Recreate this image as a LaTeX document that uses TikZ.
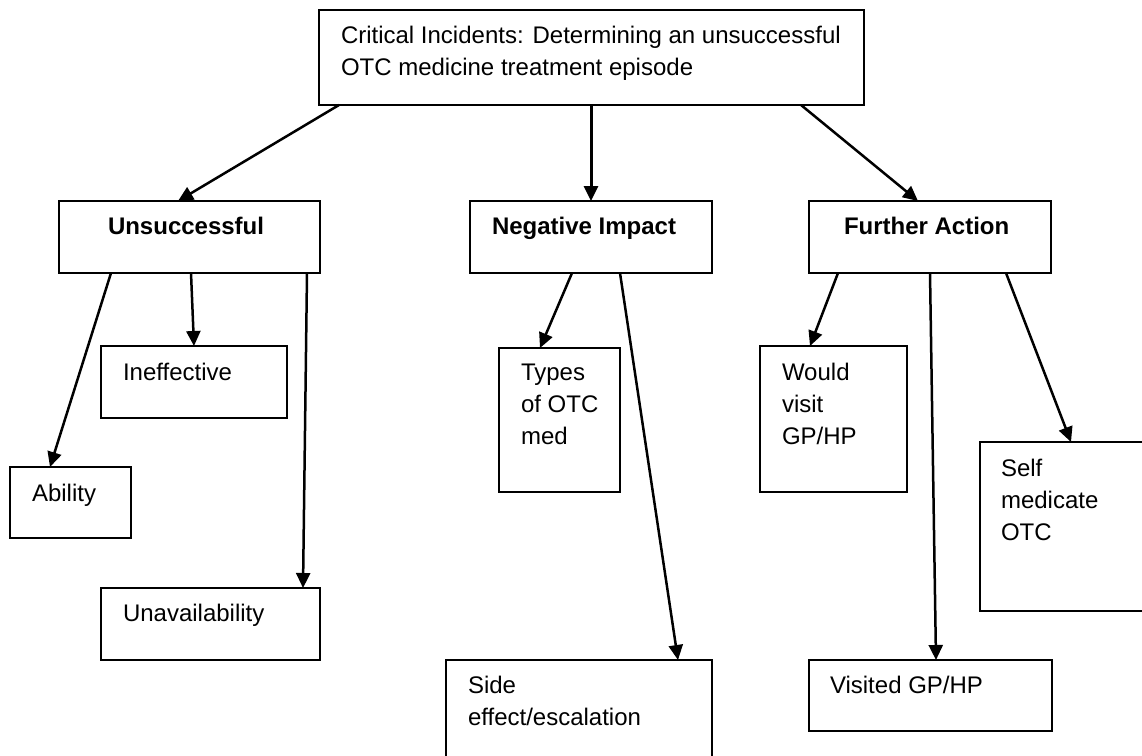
\documentclass[tikz,border=0pt]{standalone}
\usepackage{fontspec}
\setmainfont{Liberation Sans}
\usetikzlibrary{arrows.meta}
% first-line strut: puts the top of every label 24pt above its first baseline
\newcommand\labelstrut{\rule{0pt}{24pt}}
\begin{document}
\begin{tikzpicture}[x=1pt,y=-1pt,
  box/.style={draw, line width=2pt, anchor=north west, inner sep=0pt, outer sep=0pt},
  txt/.style={anchor=north west, inner sep=0pt, outer sep=0pt, align=left,
    font=\fontsize{24}{32}\selectfont},
  head/.style={txt, font=\fontsize{24}{32}\selectfont\bfseries},
  link/.style={line width=2.5pt, -{Triangle[length=15pt,width=14pt]}}]

\useasboundingbox (0,0) rectangle (1142,755);
\clip (0,0) rectangle (1142,755);

% boxes
\node[box, minimum width=545pt, minimum height=95pt] (top) at (319,10) {};
\node[box, minimum width=261pt, minimum height=72pt] (uns) at (59,201) {};
\node[box, minimum width=242pt, minimum height=72pt] (neg) at (470,201) {};
\node[box, minimum width=242pt, minimum height=72pt] (fur) at (809,201) {};
\node[box, minimum width=186pt, minimum height=72pt] (ineff) at (101,346) {};
\node[box, minimum width=121pt, minimum height=71pt] (abil) at (10,467) {};
\node[box, minimum width=219pt, minimum height=72pt] (unav) at (101,588) {};
\node[box, minimum width=121pt, minimum height=144pt] (types) at (499,348) {};
\node[box, minimum width=266pt, minimum height=120pt] (side) at (446,660) {};
\node[box, minimum width=147pt, minimum height=146pt] (would) at (760,346) {};
\node[box, minimum width=180pt, minimum height=169pt] (self) at (980,442) {};
\node[box, minimum width=243pt, minimum height=71pt] (visited) at (809,660) {};

% labels
\node[txt] (t-top) at (341,19) {\labelstrut Critical Incidents: Determining an unsuccessful\\OTC medicine treatment episode};
\node[head] (t-uns) at (108,210) {\labelstrut Unsuccessful};
\node[head] (t-neg) at (492,210) {\labelstrut Negative Impact};
\node[head] (t-fur) at (844,210) {\labelstrut Further Action};
\node[txt] (t-ineff) at (123,356) {\labelstrut Ineffective};
\node[txt] (t-abil) at (32,477) {\labelstrut Ability};
\node[txt] (t-unav) at (123,597) {\labelstrut Unavailability};
\node[txt] (t-types) at (521,356) {\labelstrut Types\\of OTC\\med};
\node[txt] (t-side) at (468,669) {\labelstrut Side\\effect/escalation};
\node[txt] (t-would) at (782,356) {\labelstrut Would\\visit\\GP/HP};
\node[txt] (t-self) at (1001,452) {\labelstrut Self\\medicate\\OTC};
\node[txt] (t-visited) at (830,669) {\labelstrut Visited GP/HP};

% connectors
\draw[link] ([xshift=20pt]top.south west) -- ([xshift=119pt]uns.north west);
\draw[link, line width=3pt] ([xshift=272pt]top.south west) -- ([xshift=121pt]neg.north west);
\draw[link] ([xshift=482pt]top.south west) -- ([xshift=109pt]fur.north west);

\draw[link] ([xshift=52pt]uns.south west) -- ([xshift=40pt]abil.north west);
\draw[link] ([xshift=132pt]uns.south west) -- ([xshift=93pt]ineff.north west);
\draw[link] ([xshift=248pt]uns.south west) -- ([xshift=202pt]unav.north west);

\draw[link] ([xshift=102pt]neg.south west) -- ([xshift=41pt]types.north west);
\draw[link] ([xshift=150pt]neg.south west) -- ([xshift=232pt]side.north west);

\draw[link] ([xshift=29pt]fur.south west) -- ([xshift=50pt]would.north west);
\draw[link] ([xshift=121pt]fur.south west) -- ([xshift=127pt]visited.north west);
\draw[link] ([xshift=197pt]fur.south west) -- ([xshift=91pt]self.north west);
\end{tikzpicture}
\end{document}
